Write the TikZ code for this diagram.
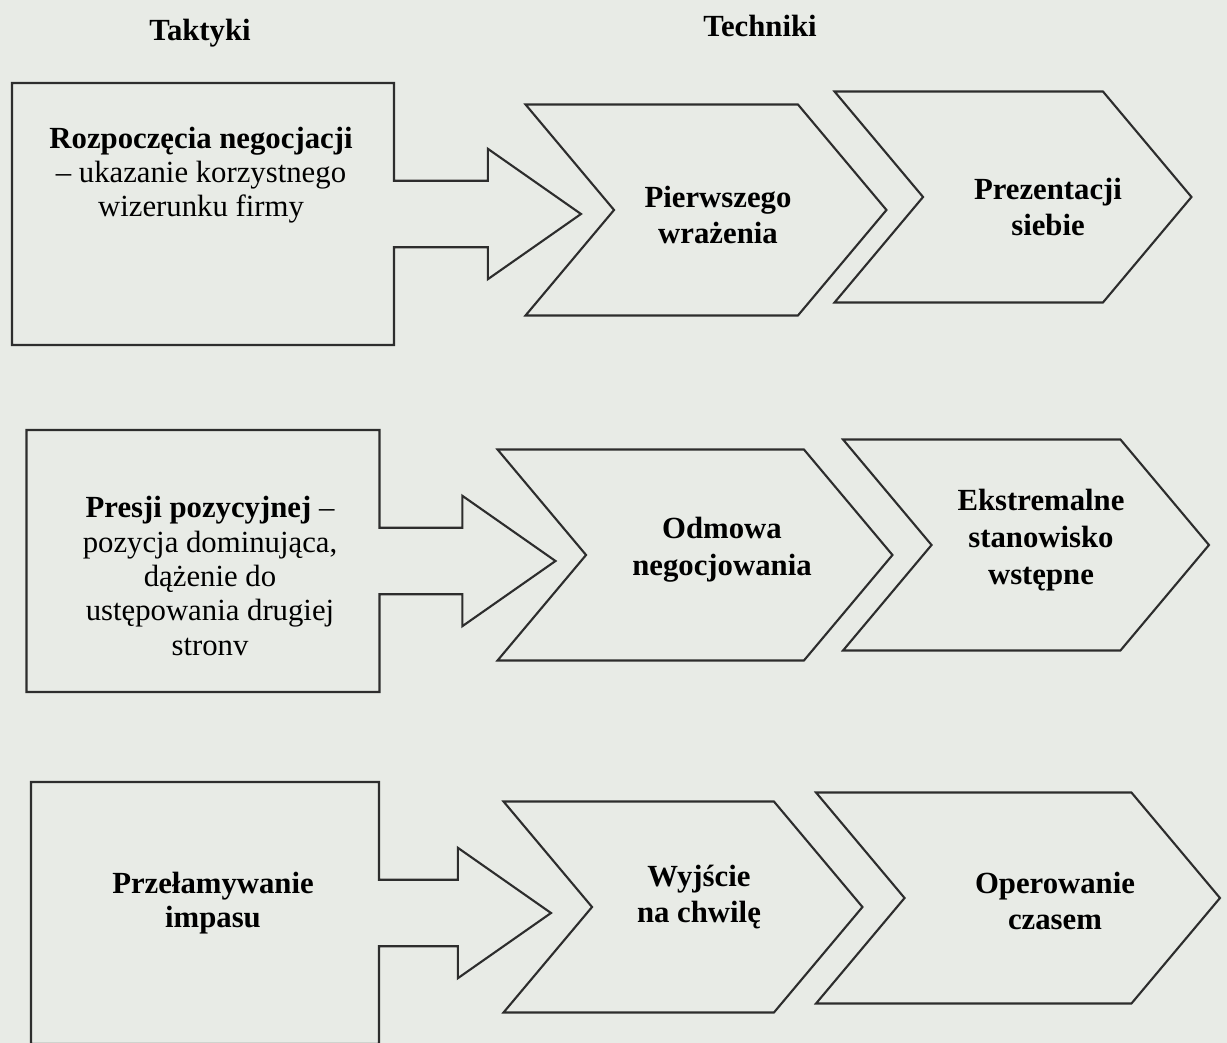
\documentclass[tikz,border=0pt]{standalone}
\usepackage{fontspec}
\setmainfont{Liberation Serif}
\usetikzlibrary{positioning,shapes.arrows,shapes.symbols}

\definecolor{scanbg}{RGB}{232,235,230}
\definecolor{inkline}{RGB}{45,45,45}

\begin{document}
\begin{tikzpicture}[
      x=0.02cm, y=-0.02cm
    ]

    \tikzstyle{tactic} = [shape=arrow box, draw=inkline, line width=1.2pt, minimum height=5.24cm, inner sep=0pt, arrow box shaft width=1.33cm, arrow box head extend=0.64cm, arrow box head indent=0cm, arrow box tip angle=70]
    \tikzstyle{technique} = [shape=signal, signal to=east, signal from=west, signal pointer angle=100, draw=inkline, line width=1.2pt, minimum height=4.22cm, inner sep=0pt]
    \tikzstyle{boxtext} = [align=center, inner sep=0pt, font=\fontsize{17.5}{19.5}\selectfont]
    \tikzstyle{chevtext} = [align=center, inner sep=0pt, font=\fontsize{17.5}{21}\selectfont\bfseries]

    % page
    \path[use as bounding box] (0,0) rectangle (1227,1043);
    \clip (0,0) rectangle (1227,1043);
    \fill[scanbg] (0,0) rectangle (1227,1043);

    % column heads
    \node [chevtext] (tactics) at (200,33) {Taktyki};
    \node [chevtext] (techniques) at (760,26) {Techniki};

    % row 1
    \node [tactic, minimum width=7.64cm, arrow box arrows={east:3.72cm}] (tactic1) at (203,214) {};
    \node [boxtext] (tactic1text) at (201,175) {\textbf{Rozpoczęcia negocjacji}\\– ukazanie korzystnego\\wizerunku firmy};
    \node [technique, minimum width=7.22cm] (first) at (706,210) {};
    \node [technique, minimum width=7.14cm] (self) at (1013,197) {};
    \node [chevtext] (firsttext) at (718,215) {Pierwszego\\wrażenia};
    \node [chevtext] (selftext) at (1048,207) {Prezentacji\\siebie};

    % row 2
    \node [tactic, minimum width=7.06cm, arrow box arrows={east:3.5cm}] (tactic2) at (203,561) {};
    \node [boxtext] (tactic2text) at (210,576) {\textbf{Presji pozycyjnej} –\\pozycja dominująca,\\dążenie do\\ustępowania drugiej\\stronv};
    \node [technique, minimum width=7.9cm] (refusal) at (695,555) {};
    \node [technique, minimum width=7.32cm] (extreme) at (1026,545) {};
    \node [chevtext] (refusaltext) at (722,550) {Odmowa\\negocjowania};
    \node [chevtext] (extremetext) at (1041,540) {Ekstremalne\\stanowisko\\wstępne};

    % row 3
    \node [tactic, minimum width=6.96cm, arrow box arrows={east:3.42cm}] (tactic3) at (205,913) {};
    \node [boxtext] (tactic3text) at (213,903) {\textbf{Przełamywanie}\\\textbf{impasu}};
    \node [technique, minimum width=7.18cm] (break) at (683,907) {};
    \node [technique, minimum width=8.08cm] (time) at (1018,898) {};
    \node [chevtext] (breaktext) at (699,897) {Wyjście\\na chwilę};
    \node [chevtext] (timetext) at (1055,901) {Operowanie\\czasem};

\end{tikzpicture}
\end{document}
